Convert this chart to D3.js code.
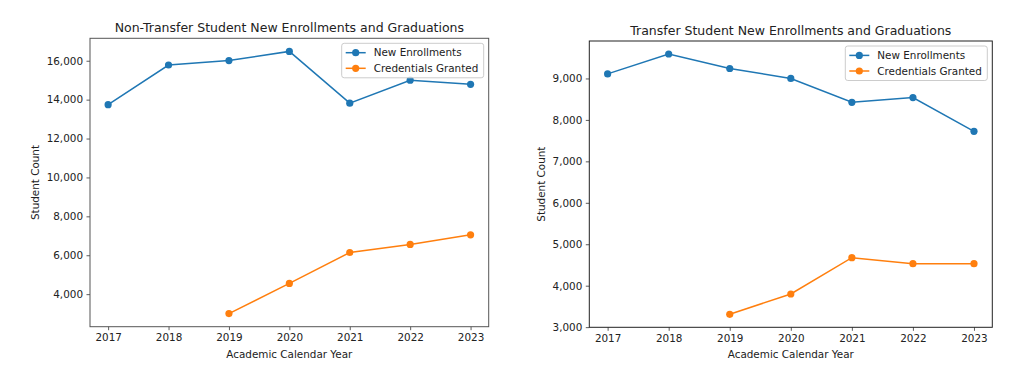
<!DOCTYPE html>
<html>
<head>
<meta charset="utf-8">
<script src="https://cdn.jsdelivr.net/npm/d3@7"></script>
<style>
  html, body { margin: 0; padding: 0; background: #fff; }
  svg { display: block; }
  text { font-family: "DejaVu Sans", sans-serif; fill: #222; }
</style>
</head>
<body>
<svg id="chart" width="1024" height="381"></svg>
<script>
// ---- data ----
const years = [2017, 2018, 2019, 2020, 2021, 2022, 2023];
const nonTransferEnroll = [13740, 15780, 16010, 16480, 13820, 15000, 14790];
const nonTransferCred   = [null, null, 3000, 4550, 6140, 6555, 7050];
const transferEnroll    = [9110, 9590, 9240, 9000, 8425, 8540, 7725];
const transferCred      = [null, null, 3310, 3800, 4675, 4530, 4530];
const nonTransferTicks  = [4000, 6000, 8000, 10000, 12000, 14000, 16000];
const transferTicks     = [3000, 4000, 5000, 6000, 7000, 8000, 9000];
const seriesNames = ["New Enrollments", "Credentials Granted"];
const seriesColors = ["#1f77b4", "#ff7f0e"];
const titles = ["Non-Transfer Student New Enrollments and Graduations",
                "Transfer Student New Enrollments and Graduations"];
const xLabel = "Academic Calendar Year";
const yLabel = "Student Count";

const svg = d3.select("#chart");
const fmt = d3.format(",");
const FS = "10.4px", TFS = "12.5px";

function drawPanel(cfg) {
  const {left, right, top, bottom, series, ticks, title, frameColor, ylabX} = cfg;
  const g = svg.append("g");
  const x = d3.scaleLinear()
    .domain([years[0] - 0.3, years[years.length - 1] + 0.3])
    .range([left, right]);
  const all = series.flat().filter(v => v != null);
  const [mn, mx] = d3.extent(all);
  const pad = (mx - mn) * 0.05;
  const y = d3.scaleLinear().domain([mn - pad, mx + pad]).range([bottom, top]);

  // axes
  const xAxis = d3.axisBottom(x).tickValues(years).tickFormat(d3.format("d"))
    .tickSizeInner(3.5).tickSizeOuter(0).tickPadding(3.5);
  const yAxis = d3.axisLeft(y).tickValues(ticks).tickFormat(fmt)
    .tickSizeInner(3.5).tickSizeOuter(0).tickPadding(3.5);

  const gx = g.append("g").attr("transform", `translate(0,${bottom})`).call(xAxis);
  const gy = g.append("g").attr("transform", `translate(${left},0)`).call(yAxis);
  [gx, gy].forEach(a => {
    a.select(".domain").remove();
    a.selectAll(".tick line").attr("stroke", "#333").attr("stroke-width", 0.8);
    a.selectAll(".tick text").style("font-size", FS).attr("fill", "#222")
      .style("font-family", "'DejaVu Sans', sans-serif");
  });

  // frame
  g.append("rect")
    .attr("x", left).attr("y", top)
    .attr("width", right - left).attr("height", bottom - top)
    .attr("fill", "none").attr("stroke", frameColor).attr("stroke-width", 1);

  // lines
  series.forEach((vals, i) => {
    const pts = years.map((yr, k) => ({yr, v: vals[k]}));
    const line = d3.line().defined(d => d.v != null).x(d => x(d.yr)).y(d => y(d.v));
    g.append("path").datum(pts).attr("d", line)
      .attr("fill", "none").attr("stroke", seriesColors[i]).attr("stroke-width", 1.5);
    g.selectAll(null).data(pts.filter(d => d.v != null)).enter().append("circle")
      .attr("cx", d => x(d.yr)).attr("cy", d => y(d.v)).attr("r", 3.6)
      .attr("fill", seriesColors[i]);
  });

  // title
  g.append("text").attr("x", (left + right) / 2).attr("y", top - 6)
    .attr("text-anchor", "middle").style("font-size", TFS).text(title);
  // x label
  g.append("text").attr("x", (left + right) / 2).attr("y", 357.5)
    .attr("text-anchor", "middle").style("font-size", FS).text(xLabel);
  // y label
  g.append("text")
    .attr("transform", `translate(${ylabX},${(top + bottom) / 2}) rotate(-90)`)
    .attr("text-anchor", "middle").style("font-size", FS).text(yLabel);

  // legend
  const lw = 142, lh = 34.5;
  const lx = right - 5 - lw, ly = top + 5;
  const lg = g.append("g");
  lg.append("rect").attr("x", lx).attr("y", ly).attr("width", lw).attr("height", lh)
    .attr("rx", 2.5).attr("fill", "rgba(255,255,255,0.8)")
    .attr("stroke", "#cccccc").attr("stroke-width", 1);
  seriesNames.forEach((name, i) => {
    const cy = ly + 9.4 + i * 15.6;
    lg.append("line").attr("x1", lx + 4).attr("x2", lx + 24).attr("y1", cy).attr("y2", cy)
      .attr("stroke", seriesColors[i]).attr("stroke-width", 1.5);
    lg.append("circle").attr("cx", lx + 14).attr("cy", cy).attr("r", 3.6).attr("fill", seriesColors[i]);
    lg.append("text").attr("x", lx + 32).attr("y", cy + 3.7)
      .style("font-size", FS).text(name);
  });
}

drawPanel({left: 90, right: 488.7, top: 38.3, bottom: 326.7,
  series: [nonTransferEnroll, nonTransferCred], ticks: nonTransferTicks,
  title: titles[0], frameColor: "#555", ylabX: 38.5});
drawPanel({left: 589.3, right: 992.3, top: 41, bottom: 327.3,
  series: [transferEnroll, transferCred], ticks: transferTicks,
  title: titles[1], frameColor: "#222", ylabX: 545});
</script>
</body>
</html>
